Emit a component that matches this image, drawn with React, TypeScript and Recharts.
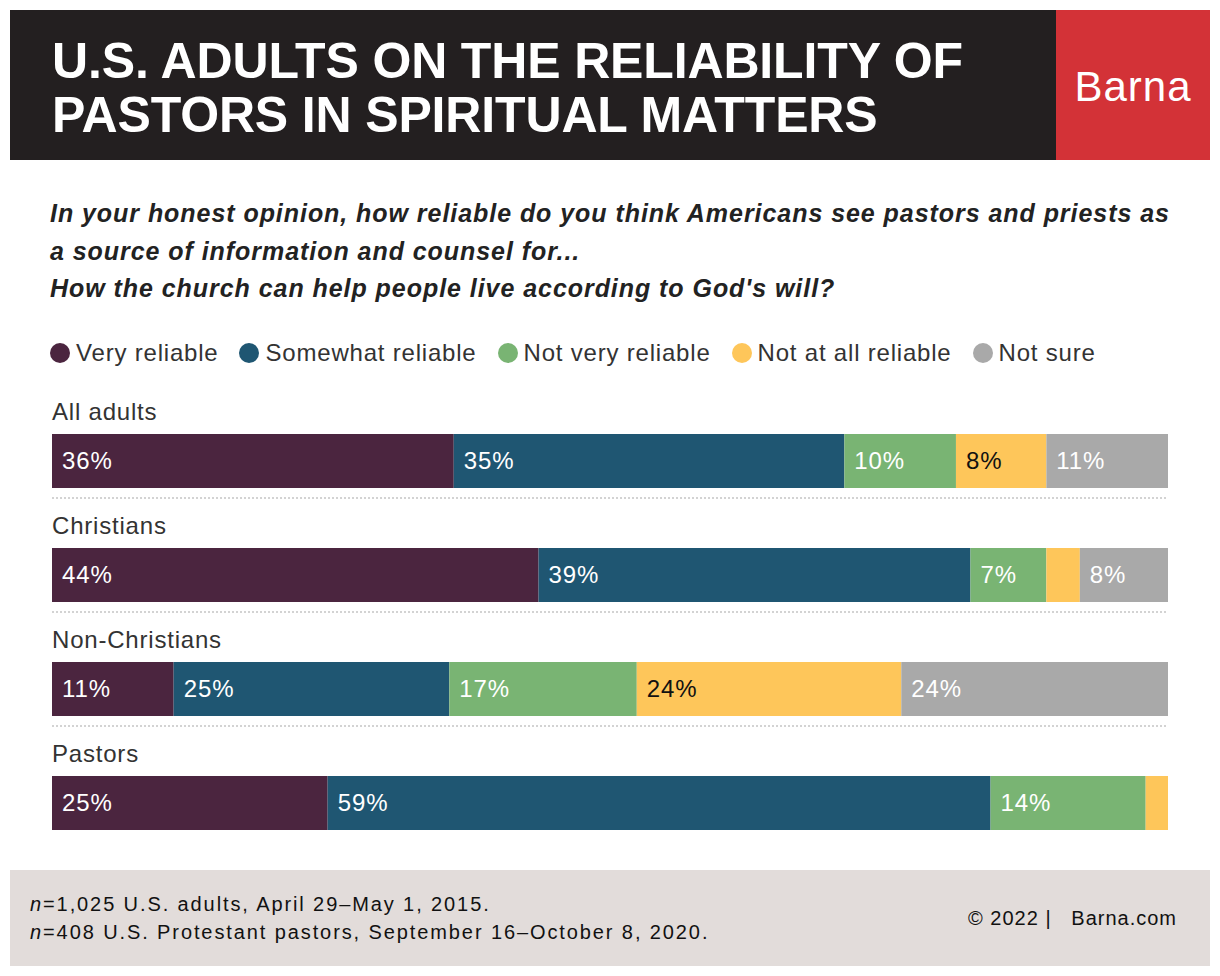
import React from "react";
import { BarChart, Bar, XAxis, YAxis, LabelList } from "recharts";

const groups = ["All adults", "Christians", "Non-Christians", "Pastors"];
const veryReliable = [36.0, 43.6, 10.9, 24.7];
const somewhatReliable = [35.0, 38.7, 24.7, 59.4];
const notVeryReliable = [10.0, 6.8, 16.8, 13.9];
const notAtAllReliable = [8.1, 3.0, 23.7, 2.0];
const notSure = [10.9, 7.9, 23.9, 0];

const seriesKeys = ["very", "somewhat", "notVery", "notAtAll", "notSure"];
const seriesNames = ["Very reliable", "Somewhat reliable", "Not very reliable", "Not at all reliable", "Not sure"];
const seriesColors = ["#4B253F", "#1F5672", "#79B473", "#FEC65A", "#A9A9A9"];
const labelColors = ["#ffffff", "#ffffff", "#ffffff", "#111111", "#ffffff"];

const data = groups.map((g, i) => ({
  group: g,
  very: veryReliable[i],
  somewhat: somewhatReliable[i],
  notVery: notVeryReliable[i],
  notAtAll: notAtAllReliable[i],
  notSure: notSure[i],
}));

const FONT = '"Liberation Sans", Arial, Helvetica, sans-serif';
const BAR_SIZE = 54;

const CategoryTick = (props: any) => {
  const { y, payload, index } = props;
  return (
    <g>
      <text x={52} y={y - 41} fill="#333" fontSize={24} fontFamily={FONT} letterSpacing={0.8}>
        {payload.value}
      </text>
      {index < groups.length - 1 && (
        <line x1={52} x2={1168} y1={y + BAR_SIZE / 2 + 10} y2={y + BAR_SIZE / 2 + 10}
          stroke="#d3d3d3" strokeWidth={2} strokeDasharray="2 2" />
      )}
    </g>
  );
};

const makeLabel = (color: string) => (props: any) => {
  const { x, y, height, value } = props;
  if (value == null || value < 5) return null;
  return (
    <text x={x + 10} y={y + height / 2} dy={8} fill={color} fontSize={24} fontFamily={FONT} letterSpacing={0.9}>
      {Math.round(value)}%
    </text>
  );
};

export default function App() {
  return (
    <div style={{ position: "absolute", left: 0, top: 0, width: 1220, height: 976, background: "#fff", fontFamily: FONT, overflow: "hidden" }}>
      <div style={{ position: "absolute", left: 10, top: 10, width: 1046, height: 150, background: "#231F20" }} />
      <div style={{ position: "absolute", left: 1056, top: 10, width: 154, height: 150, background: "#D33237" }} />
      <div style={{ position: "absolute", left: 52, top: 34, color: "#fff", fontWeight: 700, fontSize: 50, lineHeight: "54px", whiteSpace: "nowrap", letterSpacing: -0.15 }}>
        <div>U.S. ADULTS ON THE RELIABILITY OF</div>
        <div>PASTORS IN SPIRITUAL MATTERS</div>
      </div>
      <div style={{ position: "absolute", left: 1056, top: 60, width: 154, textAlign: "center", color: "#fff", fontSize: 42, lineHeight: "54px", letterSpacing: 1 }}>
        Barna
      </div>

      <div style={{ position: "absolute", left: 50, top: 195, color: "#222", fontStyle: "italic", fontWeight: 700, fontSize: 25, lineHeight: "37.5px", whiteSpace: "nowrap", letterSpacing: 0.95 }}>
        <div>In your honest opinion, how reliable do you think Americans see pastors and priests as</div>
        <div>a source of information and counsel for...</div>
        <div>How the church can help people live according to God's will?</div>
      </div>

      <div style={{ position: "absolute", left: 50, top: 338, height: 30, display: "flex", alignItems: "center", whiteSpace: "nowrap" }}>
        {seriesNames.map((n, i) => (
          <div key={n} style={{ display: "flex", alignItems: "center", marginRight: 21 }}>
            <div style={{ width: 20, height: 20, borderRadius: 10, background: seriesColors[i], marginRight: 6 }} />
            <span style={{ fontSize: 24, color: "#333", letterSpacing: 0.8 }}>{n}</span>
          </div>
        ))}
      </div>

      <div style={{ position: "absolute", left: 0, top: 380 }}>
        <BarChart width={1220} height={480} layout="vertical" data={data}
          margin={{ top: 24, right: 52, bottom: 0, left: 51 }} barCategoryGap={0}>
          <XAxis type="number" domain={[0, 100]} hide />
          <YAxis type="category" dataKey="group" width={1} axisLine={false} tickLine={false}
            interval={0} tick={CategoryTick} />
          {seriesKeys.map((k, i) => (
            <Bar key={k} dataKey={k} name={seriesNames[i]} stackId="a" fill={seriesColors[i]}
              barSize={BAR_SIZE} isAnimationActive={false}>
              <LabelList dataKey={k} content={makeLabel(labelColors[i])} />
            </Bar>
          ))}
        </BarChart>
      </div>

      <div style={{ position: "absolute", left: 10, top: 870, width: 1200, height: 96, background: "#E2DCDA" }} />
      <div style={{ position: "absolute", left: 30, top: 890, color: "#111", fontSize: 20, lineHeight: "28px", whiteSpace: "nowrap", letterSpacing: 1.9 }}>
        <div><i>n</i>=1,025 U.S. adults, April 29–May 1, 2015.</div>
        <div><i>n</i>=408 U.S. Protestant pastors, September 16–October 8, 2020.</div>
      </div>
      <div style={{ position: "absolute", right: 43, top: 904, color: "#111", fontSize: 20, lineHeight: "28px", whiteSpace: "nowrap", letterSpacing: 1 }}>
        © 2022 |&nbsp;&nbsp;&nbsp;Barna.com
      </div>
    </div>
  );
}
